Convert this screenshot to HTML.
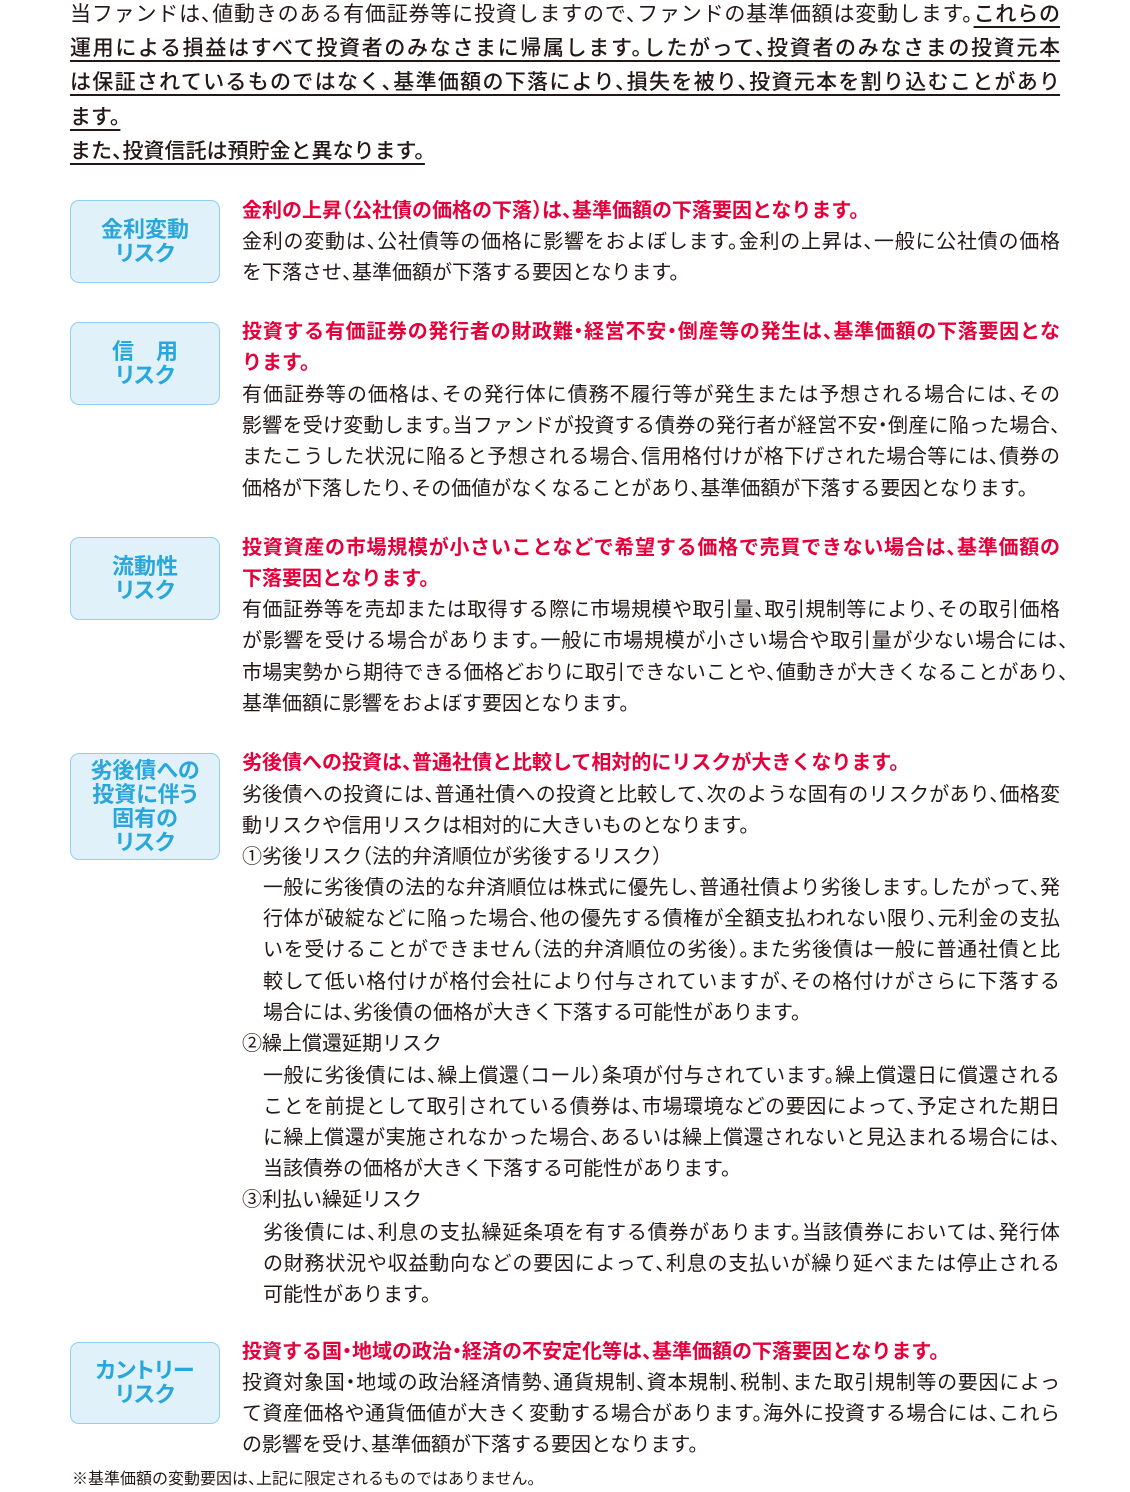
<!DOCTYPE html>
<html><head><meta charset="utf-8"><style>
body{margin:0;width:1130px;height:1490px;background:#fff;position:relative;overflow:hidden;font-family:"Liberation Sans","Noto Sans CJK JP",sans-serif;color:#231815;font-feature-settings:"halt"}
.l{position:absolute;white-space:nowrap;font-size:20px;line-height:30px;left:242px}
.i{left:263px}
.j{width:818px;text-align:justify;text-align-last:justify;white-space:normal;overflow:hidden;height:30px}
.i.j{width:797px}
.r{color:#e5003c;font-weight:700}
.t{position:absolute;white-space:nowrap;font-size:21px;line-height:30px;left:70px}
.t.j{width:990px}
.u{text-decoration:underline;text-underline-offset:5px;text-decoration-thickness:2px;font-weight:500}
.b{position:absolute;left:70px;width:148px;background:#e1f1fa;border:1.5px solid #8fd0ee;border-radius:9px;color:#29a6da;font-weight:700;font-size:22px;line-height:24px;text-align:center;display:flex;flex-direction:column;justify-content:center;font-feature-settings:"palt"}
</style></head><body>
<div class="t j" style="top:0px">当ファンドは、値動きのある有価証券等に投資しますので、ファンドの基準価額は変動します。<span class="u">これらの</span></div>
<div class="t u j" style="top:34px">運用による損益はすべて投資者のみなさまに帰属します。したがって、投資者のみなさまの投資元本</div>
<div class="t u j" style="top:68px">は保証されているものではなく、基準価額の下落により、損失を被り、投資元本を割り込むことがあり</div>
<div class="t u" style="top:103px">ます。</div>
<div class="t u" style="top:137px">また、投資信託は預貯金と異なります。</div>

<div class="b" style="top:200px;height:81px">金利変動<br>リスク</div>
<div class="l r" style="top:196px">金利の上昇（公社債の価格の下落）は、基準価額の下落要因となります。</div>
<div class="l j" style="top:227px">金利の変動は、公社債等の価格に影響をおよぼします。金利の上昇は、一般に公社債の価格</div>
<div class="l" style="top:258px">を下落させ、基準価額が下落する要因となります。</div>

<div class="b" style="top:322px;height:81px">信　用<br>リスク</div>
<div class="l r j" style="top:317px">投資する有価証券の発行者の財政難・経営不安・倒産等の発生は、基準価額の下落要因とな</div>
<div class="l r" style="top:348px">ります。</div>
<div class="l j" style="top:380px">有価証券等の価格は、その発行体に債務不履行等が発生または予想される場合には、その</div>
<div class="l j" style="top:411px">影響を受け変動します。当ファンドが投資する債券の発行者が経営不安・倒産に陥った場合、</div>
<div class="l j" style="top:442px">またこうした状況に陥ると予想される場合、信用格付けが格下げされた場合等には、債券の</div>
<div class="l" style="top:474px">価格が下落したり、その価値がなくなることがあり、基準価額が下落する要因となります。</div>

<div class="b" style="top:537px;height:81px">流動性<br>リスク</div>
<div class="l r j" style="top:533px">投資資産の市場規模が小さいことなどで希望する価格で売買できない場合は、基準価額の</div>
<div class="l r" style="top:564px">下落要因となります。</div>
<div class="l j" style="top:595px">有価証券等を売却または取得する際に市場規模や取引量、取引規制等により、その取引価格</div>
<div class="l j" style="top:626px;width:826px">が影響を受ける場合があります。一般に市場規模が小さい場合や取引量が少ない場合には、</div>
<div class="l j" style="top:658px;width:826px">市場実勢から期待できる価格どおりに取引できないことや、値動きが大きくなることがあり、</div>
<div class="l" style="top:689px">基準価額に影響をおよぼす要因となります。</div>

<div class="b" style="top:753px;height:105px">劣後債への<br>投資に伴う<br>固有の<br>リスク</div>
<div class="l r" style="top:748px">劣後債への投資は、普通社債と比較して相対的にリスクが大きくなります。</div>
<div class="l j" style="top:780px">劣後債への投資には、普通社債への投資と比較して、次のような固有のリスクがあり、価格変</div>
<div class="l" style="top:811px">動リスクや信用リスクは相対的に大きいものとなります。</div>
<div class="l" style="top:842px">①劣後リスク（法的弁済順位が劣後するリスク）</div>
<div class="l i j" style="top:873px">一般に劣後債の法的な弁済順位は株式に優先し、普通社債より劣後します。したがって、発</div>
<div class="l i j" style="top:904px">行体が破綻などに陥った場合、他の優先する債権が全額支払われない限り、元利金の支払</div>
<div class="l i j" style="top:935px">いを受けることができません（法的弁済順位の劣後）。また劣後債は一般に普通社債と比</div>
<div class="l i j" style="top:967px">較して低い格付けが格付会社により付与されていますが、その格付けがさらに下落する</div>
<div class="l i" style="top:998px">場合には、劣後債の価格が大きく下落する可能性があります。</div>
<div class="l" style="top:1029px">②繰上償還延期リスク</div>
<div class="l i j" style="top:1061px">一般に劣後債には、繰上償還（コール）条項が付与されています。繰上償還日に償還される</div>
<div class="l i j" style="top:1092px">ことを前提として取引されている債券は、市場環境などの要因によって、予定された期日</div>
<div class="l i j" style="top:1123px">に繰上償還が実施されなかった場合、あるいは繰上償還されないと見込まれる場合には、</div>
<div class="l i" style="top:1154px">当該債券の価格が大きく下落する可能性があります。</div>
<div class="l" style="top:1185px">③利払い繰延リスク</div>
<div class="l i j" style="top:1218px">劣後債には、利息の支払繰延条項を有する債券があります。当該債券においては、発行体</div>
<div class="l i j" style="top:1249px">の財務状況や収益動向などの要因によって、利息の支払いが繰り延べまたは停止される</div>
<div class="l i" style="top:1280px">可能性があります。</div>

<div class="b" style="top:1342px;height:80px">カントリー<br>リスク</div>
<div class="l r" style="top:1337px">投資する国・地域の政治・経済の不安定化等は、基準価額の下落要因となります。</div>
<div class="l j" style="top:1368px">投資対象国・地域の政治経済情勢、通貨規制、資本規制、税制、また取引規制等の要因によっ</div>
<div class="l j" style="top:1399px">て資産価格や通貨価値が大きく変動する場合があります。海外に投資する場合には、これら</div>
<div class="l" style="top:1430px">の影響を受け、基準価額が下落する要因となります。</div>

<div class="l" style="left:72px;top:1468px;font-size:16px;line-height:24px">※基準価額の変動要因は、上記に限定されるものではありません。</div>
</body></html>
